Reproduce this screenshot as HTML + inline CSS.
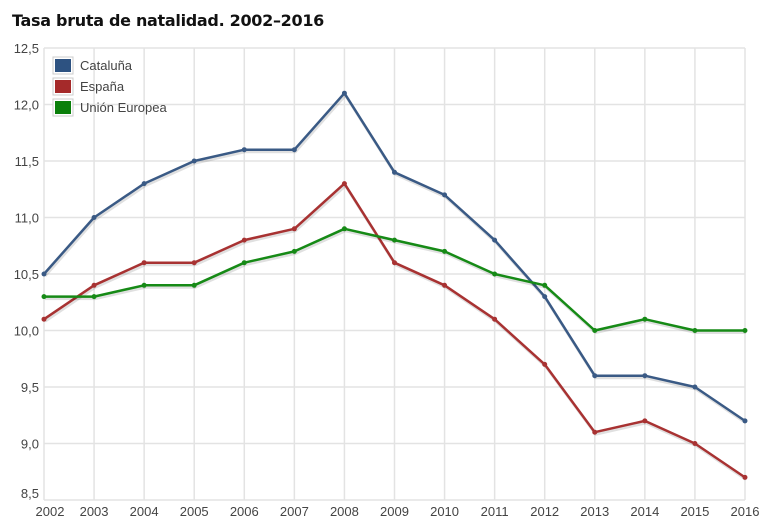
<!DOCTYPE html>
<html><head><meta charset="utf-8"><style>
body{margin:0;background:#fff;width:772px;height:526px;overflow:hidden}
svg{font-family:"Liberation Sans",sans-serif}
</style></head><body>
<svg id="c" width="772" height="526" xmlns="http://www.w3.org/2000/svg">
<text x="12" y="26" font-size="16" font-weight="bold" fill="#111" font-family="DejaVu Sans, sans-serif" letter-spacing="-0.3">Tasa bruta de natalidad. 2002–2016</text>
<g id="grid"></g>
<g id="lines"></g>
<g font-size="13" fill="#444">
<rect x="53" y="57" width="20" height="17" fill="#fff" stroke="#ccc"/><rect x="55" y="59" width="16" height="13" fill="#2d5281"/>
<text x="80" y="70">Cataluña</text>
<rect x="53" y="78" width="20" height="17" fill="#fff" stroke="#ccc"/><rect x="55" y="80" width="16" height="13" fill="#a52a2a"/>
<text x="80" y="91">España</text>
<rect x="53" y="99" width="20" height="17" fill="#fff" stroke="#ccc"/><rect x="55" y="101" width="16" height="13" fill="#0a7f0a"/>
<text x="80" y="112">Unión Europea</text>
</g>
</svg>
<script>
const NS="http://www.w3.org/2000/svg";
const g=document.getElementById('grid'),L=document.getElementById('lines');
function el(p,t,a,txt){const e=document.createElementNS(NS,t);for(const k in a)e.setAttribute(k,a[k]);if(txt)e.textContent=txt;p.appendChild(e);return e;}
const X=i=>44+i*50.07, Y=v=>48+(12.5-v)*113;
for(let i=0;i<15;i++){el(g,'line',{x1:X(i),x2:X(i),y1:48,y2:500,stroke:'#e3e3e3','stroke-width':1.5});
el(g,'text',{x:X(i)+(i==0?6:0),y:516,'text-anchor':'middle','font-size':13,fill:'#444'},String(2002+i));}
for(let k=0;k<9;k++){const v=8.5+k*0.5;el(g,'line',{x1:44,x2:745,y1:Y(v),y2:Y(v),stroke:'#e3e3e3','stroke-width':1.5});
el(g,'text',{x:39,y:Y(v)+(k==0?-2:5),'text-anchor':'end','font-size':13,fill:'#444'},v.toFixed(1).replace('.',','));}
const D=[["#3a5a85",[10.5,11.0,11.3,11.5,11.6,11.6,12.1,11.4,11.2,10.8,10.3,9.6,9.6,9.5,9.2]],
["#a83232",[10.1,10.4,10.6,10.6,10.8,10.9,11.3,10.6,10.4,10.1,9.7,9.1,9.2,9.0,8.7]],
["#168a16",[10.3,10.3,10.4,10.4,10.6,10.7,10.9,10.8,10.7,10.5,10.4,10.0,10.1,10.0,10.0]]];
for(const [c,d] of D){const pts=d.map((v,i)=>X(i)+','+Y(v)).join(' ');
el(L,'polyline',{points:d.map((v,i)=>(X(i)+1)+','+(Y(v)+2)).join(' '),fill:'none',stroke:'rgba(0,0,0,0.12)','stroke-width':3});
el(L,'polyline',{points:pts,fill:'none',stroke:c,'stroke-width':2.5,'stroke-linejoin':'round'});
d.forEach((v,i)=>el(L,'circle',{cx:X(i),cy:Y(v),r:2.5,fill:c}));}
</script>
</body></html>
